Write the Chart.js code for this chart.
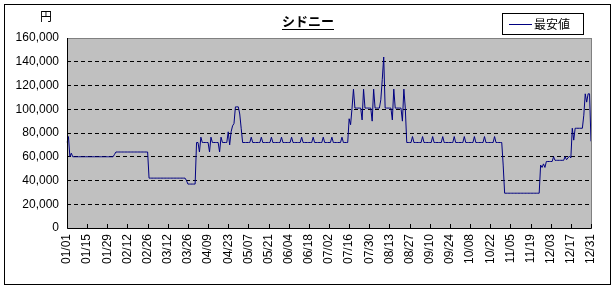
<!DOCTYPE html>
<html><head><meta charset="utf-8">
<script src="https://cdn.jsdelivr.net/npm/chart.js@4/dist/chart.umd.min.js"></script>
<style>html,body{margin:0;padding:0;background:#fff}canvas{display:block}</style>
</head><body>
<canvas id="c" width="616" height="289"></canvas>
<script>
const titleText = 'シドニー';
const unitLabel = '円';
const seriesName = '最安値';
const tickLabels = ['01/01','01/15','01/29','02/12','02/26','03/12','03/26','04/09','04/23','05/07','05/21','06/04','06/18','07/02','07/16','07/30','08/13','08/27','09/10','09/24','10/08','10/22','11/05','11/19','12/03','12/17','12/31'];
const yMin = 0, yMax = 160000, yStep = 20000;

// one category per day of the year (MM/DD)
const categories = [];
for (let i = 0; i < 365; i++) {
  const d = new Date(2007, 0, 1 + i);
  categories.push(String(d.getMonth() + 1).padStart(2, '0') + '/' + String(d.getDate()).padStart(2, '0'));
}

// daily lowest fare (yen)
const lowestFare = [
/*000*/ 72000,77000,60000,63000,60000,60000,60000,60000,60000,60000,
/*010*/ 60000,60000,60000,60000,60000,60000,60000,60000,60000,60000,
/*020*/ 60000,60000,60000,60000,60000,60000,60000,60000,60000,60000,
/*030*/ 60000,60000,60000,62000,64000,64000,64000,64000,64000,64000,
/*040*/ 64000,64000,64000,64000,64000,64000,64000,64000,64000,64000,
/*050*/ 64000,64000,64000,64000,64000,64000,64000,42000,42000,42000,
/*060*/ 42000,42000,42000,42000,42000,42000,42000,42000,42000,42000,
/*070*/ 42000,42000,42000,42000,42000,42000,42000,42000,42000,42000,
/*080*/ 42000,42000,42000,40000,37000,37000,37000,37000,37000,37000,
/*090*/ 72000,72000,64000,76500,72000,72000,72000,72000,72000,64000,
/*100*/ 76500,72000,72000,72000,72000,72000,64000,76500,72000,72000,
/*110*/ 72000,72000,81000,70000,81000,86000,88000,102000,102000,102000,
/*120*/ 96000,84000,72000,72000,72000,72000,72000,72000,76500,72000,
/*130*/ 72000,72000,72000,72000,72000,76500,72000,72000,72000,72000,
/*140*/ 72000,72000,76500,72000,72000,72000,72000,72000,72000,76500,
/*150*/ 72000,72000,72000,72000,72000,72000,76500,72000,72000,72000,
/*160*/ 72000,72000,72000,76500,72000,72000,72000,72000,72000,72000,
/*170*/ 72000,76500,72000,72000,72000,72000,72000,72000,76500,72000,
/*180*/ 72000,72000,72000,72000,76500,72000,72000,72000,72000,72000,
/*190*/ 72000,76500,72000,72000,72000,72000,92000,87000,101000,117000,
/*200*/ 101000,101000,101000,101000,101000,91000,117000,101000,101000,101000,
/*210*/ 101000,101000,90000,117000,101000,101000,101000,101000,108000,125000,
/*220*/ 144000,101000,101000,101000,101000,101000,91000,117000,101000,101000,
/*230*/ 101000,101000,101000,90000,117000,101000,72000,72000,72000,72000,
/*240*/ 77000,72000,72000,72000,72000,72000,72000,77000,72000,72000,
/*250*/ 72000,72000,72000,72000,77000,72000,72000,72000,72000,72000,
/*260*/ 72000,77000,72000,72000,72000,72000,72000,72000,72000,77000,
/*270*/ 72000,72000,72000,72000,72000,72000,77000,72000,72000,72000,
/*280*/ 72000,72000,72000,77000,72000,72000,72000,72000,72000,72000,
/*290*/ 77000,72000,72000,72000,72000,72000,72000,77000,72000,72000,
/*300*/ 72000,72000,72000,53000,29300,29300,29300,29300,29300,29300,
/*310*/ 29300,29300,29300,29300,29300,29300,29300,29300,29300,29300,
/*320*/ 29300,29300,29300,29300,29300,29300,29300,29300,29300,53000,
/*330*/ 51000,54000,51000,56000,56000,56000,56000,56000,60000,57000,
/*340*/ 57000,57000,57000,57000,57000,57000,60000,57500,59000,60500,
/*350*/ 59000,84000,74000,84000,84000,84000,84000,84000,84000,95000,
/*360*/ 113000,106000,113000,113000,73000
];
if (lowestFare.length !== categories.length) throw new Error('length ' + lowestFare.length);

const NUM_FONT = "'Liberation Sans', Arial, sans-serif";
const JP_FONT = "'Noto Sans CJK JP', sans-serif";

const decor = {
  id: 'decor',
  beforeDraw(chart) {
    const {ctx, chartArea: a} = chart;
    ctx.save();
    ctx.fillStyle = '#ffffff';
    ctx.fillRect(0, 0, chart.width, chart.height);
    ctx.fillStyle = '#c0c0c0';
    ctx.fillRect(a.left, a.top, a.right - a.left, a.bottom - a.top);
    ctx.restore();
  },
  afterDatasetsDraw(chart) {
    const {ctx, chartArea: a, scales: {x}} = chart;
    ctx.save();
    ctx.lineWidth = 1;
    ctx.strokeStyle = '#808080';
    ctx.strokeRect(Math.round(a.left) + 0.5, Math.round(a.top) + 0.5, Math.round(a.right - a.left), Math.round(a.bottom - a.top));
    ctx.strokeStyle = '#000000';
    ctx.beginPath();
    ctx.moveTo(Math.round(a.left) + 0.5, Math.round(a.top));
    ctx.lineTo(Math.round(a.left) + 0.5, Math.round(a.bottom) + 0.5);
    ctx.lineTo(Math.round(a.right) + 0.5, Math.round(a.bottom) + 0.5);
    // inward tick marks at labelled days
    categories.forEach((c, i) => {
      if (!tickLabels.includes(c)) return;
      const px = Math.round(x.getPixelForValue(i)) + 0.5;
      ctx.moveTo(px, Math.round(a.bottom));
      ctx.lineTo(px, Math.round(a.bottom) - 4);
    });
    ctx.stroke();
    ctx.restore();
  },
  afterDraw(chart) {
    const {ctx} = chart;
    ctx.save();
    // outer frame
    ctx.strokeStyle = '#000';
    ctx.lineWidth = 1;
    ctx.strokeRect(4.5, 4.5, 606, 280);
    // title
    ctx.fillStyle = '#000';
    ctx.font = "bold 13px " + JP_FONT;
    ctx.textAlign = 'center';
    ctx.textBaseline = 'middle';
    ctx.fillText(titleText, 308, 21);
    const tw = ctx.measureText(titleText).width;
    ctx.beginPath();
    ctx.moveTo(308 - tw / 2, 29.5);
    ctx.lineTo(308 + tw / 2, 29.5);
    ctx.stroke();
    // unit
    ctx.font = "12px " + JP_FONT;
    ctx.fillText(unitLabel, 46, 16);
    // legend
    ctx.fillStyle = '#fff';
    ctx.fillRect(502.5, 13.5, 81, 21);
    ctx.strokeRect(502.5, 13.5, 81, 21);
    ctx.strokeStyle = chart.data.datasets[0].borderColor;
    ctx.beginPath();
    ctx.moveTo(509, 24.5);
    ctx.lineTo(532, 24.5);
    ctx.stroke();
    ctx.fillStyle = '#000';
    ctx.textAlign = 'left';
    ctx.fillText(chart.data.datasets[0].label, 534, 24);
    ctx.restore();
  }
};

new Chart(document.getElementById('c'), {
  type: 'line',
  data: {
    labels: categories,
    datasets: [{
      label: seriesName,
      data: lowestFare,
      borderColor: '#000080',
      borderWidth: 1,
      pointRadius: 0,
      tension: 0,
      fill: false
    }]
  },
  options: {
    responsive: false,
    animation: false,
    devicePixelRatio: 1,
    layout: { padding: { top: 38, left: 0, right: 25, bottom: 0 } },
    plugins: { legend: { display: false }, title: { display: false }, tooltip: { enabled: false } },
    scales: {
      x: {
        type: 'category',
        grid: { display: false, drawTicks: false },
        border: { display: false },
        ticks: {
          autoSkip: false,
          minRotation: 90,
          maxRotation: 90,
          padding: 6,
          color: '#000',
          font: { family: NUM_FONT, size: 12 },
          callback: function (v) {
            const l = this.getLabelForValue(v);
            return tickLabels.includes(l) ? l : null;
          }
        },
        afterFit: s => { s.height = 61; }
      },
      y: {
        min: yMin, max: yMax,
        grid: {
          drawTicks: false,
          color: ctx => (ctx.tick && (ctx.tick.value === yMin || ctx.tick.value === yMax)) ? 'rgba(0,0,0,0)' : '#000',
          lineWidth: 1
        },
        border: { display: false, dash: [4, 3] },
        ticks: {
          stepSize: yStep,
          padding: 8,
          color: '#000',
          font: { family: NUM_FONT, size: 12 },
          callback: v => v.toLocaleString('en-US')
        },
        afterFit: s => { s.width = 67; }
      }
    }
  },
  plugins: [decor]
});
</script>
</body></html>
